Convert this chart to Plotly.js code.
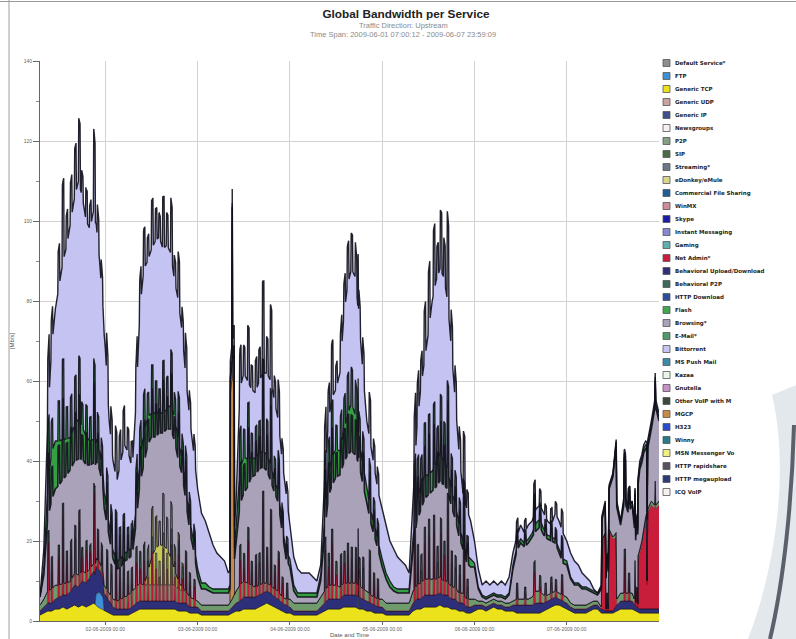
<!DOCTYPE html>
<html><head><meta charset="utf-8">
<script src="https://cdn.plot.ly/plotly-3.0.1.min.js"></script>
<style>html,body{margin:0;padding:0;background:#fff;}#chart{width:796px;height:639px;}</style>
</head><body><div id="chart"></div>
<script>
// hourly samples: index 0 = 2009-06-01 07:00, index 161 = 2009-06-08 00:00  (Mb/s)
const genericTCP = [1.5,2,2.5,2.5,3,3,3.5,3,3.5,4,3.5,4,3.5,4,4.5,3.5,3,
 2.5,2,1.5,1.5,1.5,1.5,1.5,2,2.5,3,3,3,3,3,3,3,3,3,3,2.5,2.5,2.5,2,2,
 2,1.5,1.5,1.5,1.5,1.5,1.5,1.5,1.5,2,2.5,2.5,3,3,3,3,3.5,4,4.5,4,3.5,3,2.5,2,
 2,1.5,1.5,1.5,1.5,1.5,1.5,1.5,2,2.5,3,3,3,3,3.5,3.5,3.5,3.5,3,3,2.5,2.5,2,2,
 2,1.5,1.5,1.5,1.5,1.5,1.5,1.5,2.5,3,3,3.5,3.5,3.5,3.5,4,3.5,3.5,3,3,2.5,2.5,2,2,
 2.5,3,3,2.5,3,3.5,3,3,2.5,2.5,2.5,2,2,2,2,2,2,2,2.5,3,3.5,4,4,3.5,
 3,2.5,2,2,2,2,2.5,3,3,2,2,2,2,2.5,3,3,3,3,2.5,2,2,2,2,2,2];
const genericIP = [1,1.5,2,2,2.5,3,3,3.5,4,5,5,6,6,7,8,6,5,
 4,3,2,1.5,1.5,1.5,1.5,1.5,2,2,2,2,2,2,2,2,2,2,2,2,2,2,1.5,1.5,
 1.5,1,1,1,1,1,1,1,1,1.5,2,2.5,3,3,3,3,3,3,3,3,2.5,2.5,2,2,
 1.5,1,1,1,1,1,1,1,1.5,2,2.5,2.5,2.5,2.5,3,3,3,3,3,2.5,2.5,2,2,1.5,
 1.5,1,1,1,1,1,1,1,2,2.5,2.5,3,3,3,3,3,3,3,2.5,2.5,2,2,1.5,1.5,
 1.5,1,1,1,1,1,1,1,1,1,1.5,2,2,2,2,2,2.5,2.5,2,2,2,2,1.5,1.5,
 1.5,1,1,1,1,1,1,1,1,1,0.5,0.5,0.5,1.5,2,2,2,2,1,1,1,1,1,1,1];
const p2p = [1.5,2,3,3.5,3.5,3,3,3,2.5,3,3,2.5,2.5,2,2,2,2,
 2,2,2,2,2.5,3,3.5,4,4,4.5,4,4,4,4,4,4,4,4,4,3.5,3,3,2.5,2,
 1.5,1.5,1.5,1.5,1.5,1.5,1.5,1.5,1.5,2,3,4,4,3.5,3,2.5,2.5,2.5,2,2,2,2,1.5,1.5,
 2,2,2,2,2,2,2,2,2.5,3,3.5,3.5,3.5,3,3,3,3,3,3,2.5,2.5,2,2,2,
 2,2,2,2,2,2,2,2,3,3.5,4,4,4,4,4,4,3.5,3.5,3,3,2.5,2.5,2,2,
 1.5,1,1,1,1,1,1,1,1,1,1,1.5,1.5,1.5,1.5,2,3,3,2,1.5,1.5,1.5,1.5,1.5,
 1.5,1,1,1,1,1,1,1,1,0.5,0.5,0.5,0.5,1.5,2,2,2,2,1,1,1,1,1,1,1];
const browsing = [2,6,18,22,24,25,26,27,28,28,29,28,27,26,25,24,22,
 18,14,10,8,8,9,9,9,16,25,30,32,30,28,28,28,30,32,32,30,28,22,16,12,
 6,4,4,3.5,3,3,3,3,3,4,12,20,22,24,27,28,29,29,28,26,24,22,16,10,
 8,3,1.5,1.5,1.5,1.5,1.5,1.5,4,14,22,25,27,28,30,32,33,32,30,26,22,18,15,12,
 8,6,4,3,2.5,2.5,2.5,2.5,10,16,18,20,21,22,23,24,24,23,20,17,14,11,9,8,
 8,3,1,1,1,1,1,1,1,2,8,12,14,13,14,15,15,16,15,14,13,12,10,8,
 8,6,5,5,4,4,3,2,1.5,4.5,7,10,15,23,17,23,20,22,15,20,19,15,18,25,20];
const flash = [0,2,8,12,12,11,10,9,8,9,10,8,7,6,6,5,4,
 4,3,2,2,2,2,2,2,4,6,8,7,6,6,5,5,5,6,6,5,4,3,3,2,
 2,1.5,1.5,1,1,1,1,1,1,1,4,9,9,7,5,4,4,4,4,4,3,3,2,2,
 2,1.5,1,1,1,1,1,1,1.5,4,6,7,7,6,8,10,12,10,6,5,4,3,3,2,
 2,1.5,1.5,1,1,1,1,1,3,5,6,6,5,5,6,7,6,5,4,4,3,2,2,2,
 1,0.5,0.5,0.5,0.5,0.5,0.5,0.5,0.5,0.5,1,1,1,1,1,1,2,2,1.5,1,1,1,1,1,
 1,0.5,0.5,0.5,0.5,0.5,0.5,0.5,0.5,0.5,0.5,0.5,0.5,1,1,1,1,1,1,1,1,1,1,1,1];
const bittorrent = [0,4.5,16.5,26,33,39,44.5,48.5,54,57,59.5,57.5,54,53,57.5,51.5,44,
 37.5,26,22.5,20,24.5,27,24.5,19.5,26.5,37.5,41,39,41,43,44,41,41,38,34,35,31.5,27.5,25,22.5,
 20,17.5,15.5,13.5,11,9,8,7,4,3.5,6.5,20,21,19.5,17,16.5,18,19.5,20.5,21,20,17.5,16,14.5,
 8.5,7,6,5,5,5,4,3,2.5,9.5,13,15,15,19.5,28.5,32.5,33.5,34.5,30,23,16.5,16.5,14,12.5,
 12.5,12,10,9.5,8,7,6,4,9.5,18,24.5,28.5,35.5,42.5,45.5,46,46,42,35.5,25.5,18,12,11.5,9.5,
 5.5,4.5,2.5,4,2.5,3,2.5,3.5,3,4,3,2.5,3.5,2.5,3.5,3,3.5,3.5,4,3.5,3,6.5,7,6.5,
 5,6,5.5,4.5,3.5,2.5,2,0.5,0,0.5,0.5,0.5,0.5,0.5,0,1,0,0,0.5,1,1,1,1,1,1];
// eDonkey/eMule (hours after start, Mb/s)
const edonkeyHours = [27,28,29,30,31,32,33,34,35,36,37,38];
const edonkeyValues = [0,3,7,9,10,10,9,7,4,2,1,0];
// Net Admin* short spikes (hour after start, Mb/s)
const netAdminSpikeHours = [2.2,3.1,4.9,6.0,7.0,8.1,9.2,10.25,11.0,12.1,13.1,14.15,15.1,16.1,
 17.5,18.6,19.8,20.8,21.8,22.9,23.9,25.1,26.1,27.1,28.1,29.2,30.2,31.1,32.1,33.1,34.2,35.1,36.1,37.1,38.0,39.0,40.2,
 52.1,53.1,54.2,55.1,56.2,57.1,58.05,59.1,60.1,61.1,62.1,63.1,64.3,
 74.2,75.1,76.0,77.1,78.3,79.2,80.1,81.1,82.2,83.1,84.1,85.8,86.9,87.9,
 97.5,98.3,99.2,100.1,101.2,102.5,103.4,104.3,105.2,106.1,107.1,108.1,109.2,110.3,111.2,
 124.1,126.2,128.6,130.1,131.5,133.0,134.2,135.8,147.5,152.1,153.2,155.2];
const netAdminSpikeValues = [15,8,10,20,8,10,12,16,6,8,6,20,8,6,
 10,8,12,8,10,6,6,10,8,10,6,12,8,6,13,8,14,6,12,6,10,6,5,
 10,7,14,6,8,8,23,9,19,6,10,5,4,
 13,8,14,6,8,8,10,9,9,7,8,11,6,5,
 15,10,7,13,15,16,8,15,10,22,9,8,7,16,5,
 4,3,8,4,3,4,3,5,4,11,5,4];
// Net Admin* sustained traffic on 07-06 (hour after start, Mb/s)
const netAdminBlockHours = [146.0,146.15,147,148,149,149.85,150.0,154.6,154.75,155.5,156.5,157.5,157.8,157.9,158.05,159,159.85,160.0,160.15,161];
const netAdminBlockValues = [0,17,19,20,18,17,0,0,10,12,16,22,23,6,24,26,25,31,25,26];
const ftpHours = [14.3,14.6,15.5,16.4,16.7,82.65,82.75,82.85];
const ftpValues = [0,3,4,3,0,0,14,0];
const mgcpHours = [49.4,49.5,49.9,50.0,50.1,50.5,50.6];
const mgcpValues = [0,52,55,94,55,52,0];

const tickDates = ['2009-06-02 00:00','2009-06-03 00:00','2009-06-04 00:00','2009-06-05 00:00','2009-06-06 00:00','2009-06-07 00:00'];
const tickLabels = ['02-06-2009 00:00','03-06-2009 00:00','04-06-2009 00:00','05-06-2009 00:00','06-06-2009 00:00','07-06-2009 00:00'];

const legendNames = ['Default Service*','FTP','Generic TCP','Generic UDP','Generic IP','Newsgroups','P2P','SIP','Streaming*','eDonkey/eMule','Commercial File Sharing','WinMX','Skype','Instant Messaging','Gaming','Net Admin*','Behavioral Upload/Download','Behavioral P2P','HTTP Download','Flash','Browsing*','E-Mail*','Bittorrent','MS Push Mail','Kazaa','Gnutella','Other VoIP with M','MGCP','H323','Winny','MSN Messenger Vo','HTTP rapidshare','HTTP megaupload','ICQ VoIP'];
const legendColors = ['#8e8e8e','#3d8fd6','#ece21c','#c9a3a0','#3f4f8c','#f6eef2','#879e86','#4a6a48','#687888','#d6d68e','#1f5c9c','#d08a9a','#1c1ca4','#8888d2','#5cb2b0','#c81e3c','#2d2f78','#3b6a5a','#2c4c9c','#3caa4c','#aaa2b8','#4c9c6a','#c6c4f2','#3a8aaa','#e8f6e8','#c890c8','#3a4a3a','#c88a46','#2a4ad0','#2a7a8a','#f0f080','#5a5060','#2a3a7a','#f8f0f0'];

const OUTLINE = 'rgba(16,16,26,0.92)';
const t0 = Date.UTC(2009,5,1,7,0,0);
const toDate = h => new Date(t0 + Math.round(h*3600000)).toISOString().slice(0,19).replace('T',' ');
const hourX = genericTCP.map((_, i) => toDate(i));

// each short Net Admin* burst is drawn as a narrow flat-topped pulse
const netAdminPts = [];
netAdminSpikeHours.forEach((h, i) => {
  const v = netAdminSpikeValues[i];
  netAdminPts.push([h-0.27,0],[h-0.17,v],[h+0.17,v],[h+0.27,0]);
});
netAdminBlockHours.forEach((h, i) => netAdminPts.push([h, netAdminBlockValues[i]]));
netAdminPts.sort((a,b)=>a[0]-b[0]);

function area(name, x, y, color, lw, lc) {
  return {type:'scatter', mode:'lines', name, x, y, stackgroup:'bw', stackgaps:'interpolate',
    fillcolor: color, line:{color: lc || OUTLINE, width: lw, simplify:false},
    hoverinfo:'skip', showlegend:false};
}
const traces = [
  area('Generic TCP', hourX, genericTCP, '#ece21c', 0.6),
  area('FTP', ftpHours.map(toDate), ftpValues, '#3d8fd6', 0.6),
  area('Generic IP', hourX, genericIP, '#2d2f78', 0.9),
  area('Net Admin*', netAdminPts.map(p=>toDate(p[0])), netAdminPts.map(p=>p[1]), '#c81e3c', 0.6, 'rgba(105,12,32,0.95)'),
  area('P2P', hourX, p2p, '#6f9a6c', 0.7),
  area('eDonkey/eMule', edonkeyHours.map(toDate), edonkeyValues, '#c9c95a', 0.9),
  area('MGCP', mgcpHours.map(toDate), mgcpValues, '#c88a46', 0.8),
  area('Browsing*', hourX, browsing, '#aaa2b8', 1.6),
  area('Flash', hourX, flash, '#33a043', 1.3),
  area('Bittorrent', hourX, bittorrent, '#c5c3f2', 1.4)
];

const L = 40, R = 659, T = 61, B = 621;
const px = v => (v - L) / (R - L);
const py = v => (B - v) / (B - T);

const shapes = [
  {type:'line', xref:'paper', yref:'paper', x0:px(0), x1:px(796), y0:py(1.5), y1:py(1.5), line:{color:'#9a9a9a', width:1}},
  {type:'line', xref:'paper', yref:'paper', x0:px(9), x1:px(9), y0:py(0), y1:py(639), line:{color:'#a0a0a0', width:1}},
  {type:'path', xref:'paper', yref:'paper', layer:'below',
   path:`M ${px(772)},${py(395)} C ${px(790)},${py(470)} ${px(775)},${py(570)} ${px(748)},${py(639)} L ${px(796)},${py(639)} L ${px(796)},${py(385)} Z`,
   fillcolor:'rgba(175,188,204,0.35)', line:{width:0}},
  {type:'path', xref:'paper', yref:'paper', layer:'below',
   path:`M ${px(794)},${py(425)} C ${px(792)},${py(500)} ${px(784)},${py(580)} ${px(770)},${py(639)}`,
   line:{color:'rgba(45,52,62,0.75)', width:4}}
];
const annotations = [
  {text:'Traffic Direction: Upstream', xref:'paper', yref:'paper', x:px(403), y:py(25), showarrow:false, xanchor:'center', yanchor:'middle',
   font:{family:'Liberation Sans, Arial, sans-serif', size:7.5, color:'#8a8a8a'}},
  {text:'Time Span: 2009-06-01 07:00:12 - 2009-06-07 23:59:09', xref:'paper', yref:'paper', x:px(403), y:py(35), showarrow:false, xanchor:'center', yanchor:'middle',
   font:{family:'Liberation Sans, Arial, sans-serif', size:7.5, color:'#8a8a8a'}}
];
legendNames.forEach((n, i) => {
  const cy = 63 + 13 * i;
  shapes.push({type:'rect', xref:'paper', yref:'paper', x0:px(663), x1:px(670), y0:py(cy+3.5), y1:py(cy-3.5),
    fillcolor: legendColors[i], line:{color:'#555', width:0.8}});
  annotations.push({text:n, xref:'paper', yref:'paper', x:px(672.5), y:py(cy), xanchor:'left', yanchor:'middle', showarrow:false,
    font:{family:'DejaVu Sans, Verdana, sans-serif', size:5.5, color:'#1e1e1e', weight:'bold'}});
});

const layout = {
  width:796, height:639,
  margin:{l:L, r:796-R, t:T, b:639-B, pad:0},
  paper_bgcolor:'#ffffff', plot_bgcolor:'#ffffff',
  showlegend:false,
  font:{family:'Liberation Sans, Arial, sans-serif', size:6, color:'#555'},
  title:{text:'<b>Global Bandwidth per Service</b>', xref:'container', yref:'container', x:406/796, y:1-14/639,
    xanchor:'center', yanchor:'middle', font:{family:'Liberation Sans, Arial, sans-serif', size:11.8, color:'#222'}},
  xaxis:{type:'date', range:['2009-06-01 07:00:12','2009-06-07 23:59:09'], tickmode:'array', tickvals:tickDates, ticktext:tickLabels,
    showgrid:true, gridcolor:'#d2d2d2', gridwidth:1, showline:true, linecolor:'#666', linewidth:1, ticks:'outside', ticklen:3, tickcolor:'#666',
    tickfont:{size:5, color:'#666'}, zeroline:false, fixedrange:true,
    title:{text:'Date and Time', font:{size:6, color:'#555'}, standoff:1}},
  yaxis:{range:[0,140], tick0:0, dtick:20, showgrid:true, gridcolor:'#d2d2d2', gridwidth:1, showline:true, linecolor:'#666', linewidth:1,
    ticks:'outside', ticklen:6, tickcolor:'#666', tickfont:{size:5, color:'#666'}, zeroline:false, fixedrange:true,
    minor:{dtick:10, ticks:'outside', ticklen:3, tickcolor:'#888', showgrid:false},
    title:{text:'[Mb/s]', font:{size:6, color:'#555'}, standoff:8}},
  shapes, annotations
};
Plotly.newPlot('chart', traces, layout, {staticPlot:true, displayModeBar:false});
</script></body></html>
